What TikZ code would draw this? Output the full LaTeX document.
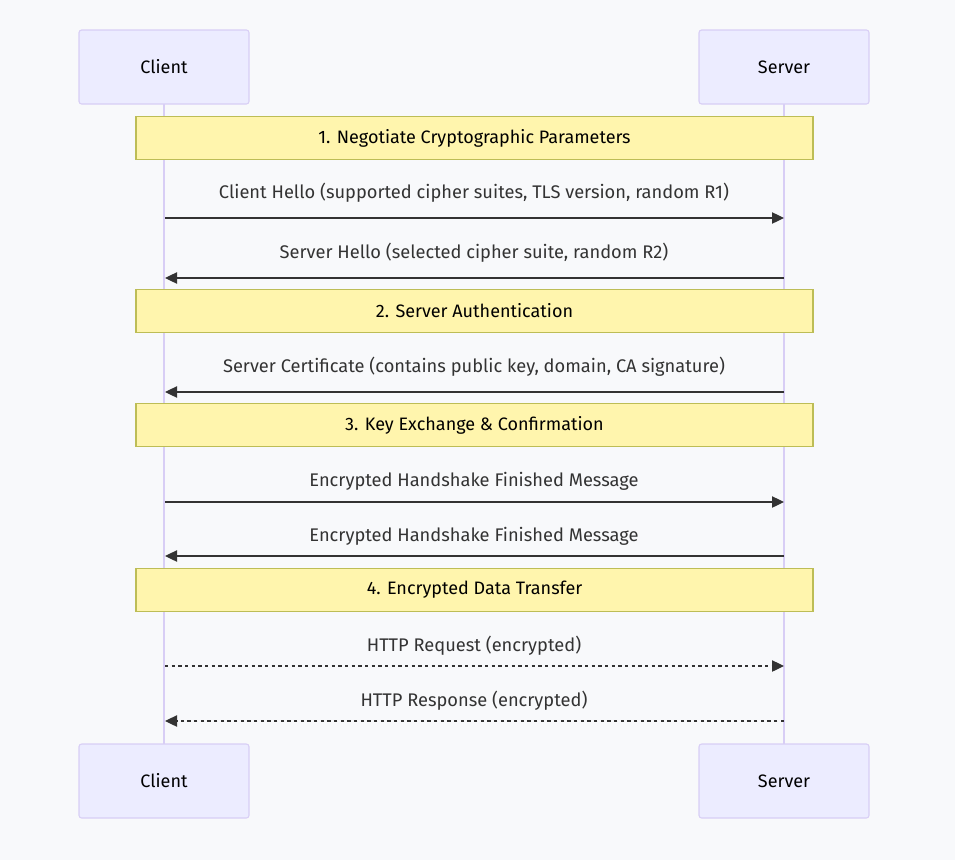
\documentclass[tikz,border=0pt]{standalone}
\usepackage{fontspec}
\setmainfont{Fira Sans}
\usetikzlibrary{arrows.meta}

\definecolor{bgc}{HTML}{F8F9FB}
\definecolor{actorfill}{HTML}{ECECFF}
\definecolor{actorline}{HTML}{D8CEF5}
\definecolor{notefill}{HTML}{FFF5AD}
\definecolor{noteline}{HTML}{BDBD56}
\definecolor{msgc}{HTML}{333333}

\tikzset{
  actor/.style={draw=actorline, fill=actorfill, rounded corners=2pt, line width=0.8pt,
    minimum width=127.5pt, minimum height=55.5pt, inner sep=0pt, font=\fontsize{13.5}{16}\selectfont},
  lifeline/.style={draw=actorline, line width=1.5pt},
  note/.style={draw=noteline, fill=notefill, line width=0.8pt,
    minimum width=507.75pt, minimum height=32.25pt, inner sep=0pt, font=\fontsize{13.5}{16}\selectfont},
  msglabel/.style={text=msgc, inner sep=0pt, font=\fontsize{13.7}{16}\selectfont},
  msg/.style={draw=msgc, line width=0.9pt, -{Triangle[length=9pt,width=8.5pt]}},
  reply/.style={msg, dash pattern=on 2.5pt off 2.5pt}
}

\begin{document}
\begin{tikzpicture}[x=0.75pt,y=-0.75pt]
  % background
  \fill[bgc] (0,0) rectangle (955,860);
  \useasboundingbox (0,0) rectangle (955,860);

  % lifelines
  \draw[lifeline] (164,104) -- (164,744);
  \draw[lifeline] (784,104) -- (784,744);

  % Actors
  \node[actor] (clienttop) at (164,67) {Client};
  \node[actor] (servertop) at (784,67) {Server};
  \node[actor] (clientbot) at (164,781) {Client};
  \node[actor] (serverbot) at (784,781) {Server};

  % Notes
  \node[note] (phase1) at (474.5,138) {1. Negotiate Cryptographic Parameters};
  \node[note] (phase2) at (474.5,311) {2. Server Authentication};
  \node[note] (phase3) at (474.5,425) {3. Key Exchange \& Confirmation};
  \node[note] (phase4) at (474.5,590) {4. Encrypted Data Transfer};

  % message ends on the lifelines
  \coordinate (c1) at (165,218); \coordinate (s1) at (784,218);
  \coordinate (c2) at (165,278); \coordinate (s2) at (784,278);
  \coordinate (c3) at (165,392); \coordinate (s3) at (784,392);
  \coordinate (c4) at (165,502); \coordinate (s4) at (784,502);
  \coordinate (c5) at (165,556); \coordinate (s5) at (784,556);
  \coordinate (c6) at (165,666); \coordinate (s6) at (784,666);
  \coordinate (c7) at (165,721); \coordinate (s7) at (784,721);

  % Messages
  \node[msglabel] (m1) at (474,193) {Client Hello (supported cipher suites, TLS version, random R1)};
  \draw[msg] (c1) -- (s1);
  \node[msglabel] (m2) at (474,253) {Server Hello (selected cipher suite, random R2)};
  \draw[msg] (s2) -- (c2);
  \node[msglabel] (m3) at (474,367) {Server Certificate (contains public key, domain, CA signature)};
  \draw[msg] (s3) -- (c3);
  \node[msglabel] (m4) at (474,481) {Encrypted Handshake Finished Message};
  \draw[msg] (c4) -- (s4);
  \node[msglabel] (m5) at (474,536) {Encrypted Handshake Finished Message};
  \draw[msg] (s5) -- (c5);
  \node[msglabel] (m6) at (474,646) {HTTP Request (encrypted)};
  \draw[reply] (c6) -- (s6);
  \node[msglabel] (m7) at (474,701) {HTTP Response (encrypted)};
  \draw[reply] (s7) -- (c7);
\end{tikzpicture}
\end{document}
